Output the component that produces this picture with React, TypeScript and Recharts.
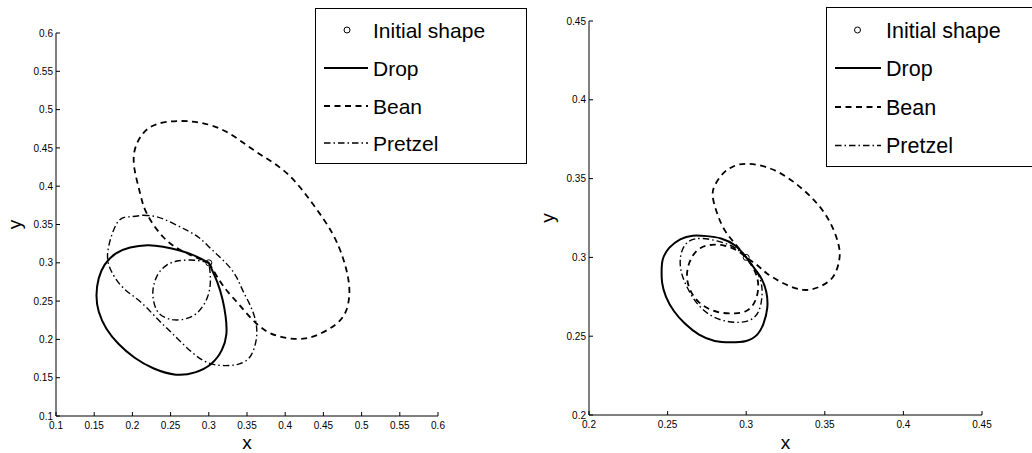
import React from 'react';
import { ComposedChart, Line, Scatter, XAxis, YAxis, Legend } from 'recharts';

// ---------- data ----------
const initialShape = [[0.3, 0.3]];

const dropLeft = [
  [0.300, 0.300], [0.282, 0.309], [0.262, 0.316], [0.240, 0.321], [0.220, 0.323], [0.197, 0.320],
  [0.178, 0.312], [0.164, 0.298], [0.156, 0.280], [0.153, 0.258], [0.156, 0.236], [0.166, 0.214],
  [0.182, 0.194], [0.203, 0.176], [0.228, 0.162], [0.257, 0.154], [0.282, 0.157], [0.303, 0.168],
  [0.317, 0.186], [0.323, 0.207], [0.322, 0.230], [0.318, 0.252], [0.311, 0.275], [0.300, 0.300],
];

const beanLeft = [
  [0.300, 0.300], [0.314, 0.277], [0.325, 0.262], [0.340, 0.245], [0.357, 0.226], [0.375, 0.211],
  [0.392, 0.204], [0.408, 0.201], [0.424, 0.201], [0.440, 0.205], [0.458, 0.214], [0.471, 0.224],
  [0.480, 0.238], [0.484, 0.260], [0.482, 0.282], [0.476, 0.305], [0.462, 0.338], [0.436, 0.377],
  [0.402, 0.417], [0.362, 0.445], [0.323, 0.471], [0.288, 0.483], [0.258, 0.485], [0.232, 0.481],
  [0.214, 0.469], [0.203, 0.447], [0.203, 0.421], [0.210, 0.391], [0.219, 0.364], [0.240, 0.334],
  [0.266, 0.315], [0.300, 0.300],
];

const pretzelLeftInner = [
  [0.300, 0.300], [0.286, 0.303], [0.271, 0.3035], [0.257, 0.302], [0.245, 0.297], [0.234, 0.286],
  [0.228, 0.271], [0.227, 0.255], [0.232, 0.238], [0.242, 0.229], [0.255, 0.2255], [0.270, 0.227],
  [0.284, 0.234], [0.295, 0.248], [0.301, 0.265], [0.302, 0.283], [0.300, 0.300],
];

const pretzelLeftOuter = [
  [0.214, 0.362], [0.232, 0.360], [0.252, 0.352], [0.271, 0.3425], [0.287, 0.333], [0.301, 0.320],
  [0.315, 0.307], [0.3275, 0.294], [0.337, 0.280], [0.3444, 0.264], [0.353, 0.247], [0.360, 0.229],
  [0.3627, 0.205], [0.3545, 0.178], [0.340, 0.168], [0.3275, 0.166], [0.3013, 0.1686], [0.2752, 0.1856],
  [0.252, 0.208], [0.232, 0.2275], [0.2098, 0.2497], [0.1876, 0.2676], [0.172, 0.290], [0.168, 0.316],
  [0.1797, 0.3516], [0.195, 0.360], [0.214, 0.362],
];

const dropRight = [
  [0.300, 0.300], [0.293, 0.3075], [0.284, 0.312], [0.275, 0.3135], [0.266, 0.3138], [0.258, 0.3115],
  [0.251, 0.306], [0.247, 0.299], [0.2462, 0.292], [0.2465, 0.284], [0.249, 0.275], [0.254, 0.266],
  [0.261, 0.258], [0.270, 0.251], [0.280, 0.247], [0.290, 0.2461], [0.300, 0.247], [0.307, 0.251],
  [0.311, 0.258], [0.3134, 0.268], [0.3128, 0.278], [0.310, 0.286], [0.306, 0.292], [0.300, 0.300],
];

const beanRight = [
  [0.300, 0.300], [0.2935, 0.308], [0.2865, 0.317], [0.2815, 0.328], [0.2787, 0.3387], [0.2802, 0.346],
  [0.2855, 0.3535], [0.2918, 0.3577], [0.3003, 0.3594], [0.3173, 0.3556], [0.3363, 0.3429], [0.3512, 0.326],
  [0.3585, 0.309], [0.3592, 0.2984], [0.3554, 0.2879], [0.3469, 0.2815], [0.3363, 0.2794], [0.3236, 0.2836],
  [0.313, 0.290], [0.3067, 0.2953], [0.300, 0.300], [0.294, 0.3045], [0.286, 0.3075], [0.278, 0.308],
  [0.271, 0.306], [0.266, 0.301], [0.263, 0.294], [0.2625, 0.286], [0.265, 0.278], [0.270, 0.2715],
  [0.277, 0.267], [0.285, 0.2648], [0.293, 0.2645], [0.300, 0.266], [0.305, 0.271], [0.3075, 0.279],
  [0.307, 0.287], [0.304, 0.294], [0.300, 0.300],
];

const pretzelRight = [
  [0.300, 0.300], [0.293, 0.306], [0.283, 0.310], [0.272, 0.312], [0.264, 0.3105], [0.2595, 0.305],
  [0.258, 0.297], [0.2595, 0.288], [0.2635, 0.279], [0.269, 0.2705], [0.277, 0.2635], [0.286, 0.2598],
  [0.295, 0.2588], [0.303, 0.2605], [0.308, 0.266], [0.310, 0.275], [0.3095, 0.284], [0.306, 0.292],
  [0.300, 0.300],
];

const ticksLeft = [0.1, 0.15, 0.2, 0.25, 0.3, 0.35, 0.4, 0.45, 0.5, 0.55, 0.6];
const ticksRight = [0.2, 0.25, 0.3, 0.35, 0.4, 0.45];
const legendNames = ['Initial shape', 'Drop', 'Bean', 'Pretzel'];

// ---------- styles ----------
const FONT = '"Liberation Sans", Arial, Helvetica, sans-serif';
const TICK_LEN = 4;
const DASH = '6 4.5';
const DASHDOT = '6.5 3 1.5 3';
const STYLE: Record<string, { dash?: string; width: number }> = {
  Drop: { width: 2 },
  Bean: { dash: DASH, width: 1.8 },
  Pretzel: { dash: DASHDOT, width: 1.4 },
};

const toPts = (a: number[][]) => a.map(([x, y]) => ({ x, y }));

const BottomTick = (p: any) => (
  <g>
    <line x1={p.x} y1={p.y} x2={p.x} y2={p.y - TICK_LEN} stroke="#000" strokeWidth={1} />
    <text x={p.x} y={p.y + 12.6} textAnchor="middle" fontSize={10} fontFamily={FONT} fill="#000">
      {String(p.payload.value)}
    </text>
  </g>
);
const TopTick = (p: any) => (
  <line x1={p.x} y1={p.y} x2={p.x} y2={p.y + TICK_LEN} stroke="#000" strokeWidth={1} />
);
const LeftTick = (p: any) => (
  <g>
    <line x1={p.x} y1={p.y} x2={p.x + TICK_LEN} y2={p.y} stroke="#000" strokeWidth={1} />
    <text x={p.x - 3} y={p.y + 3.6} textAnchor="end" fontSize={10} fontFamily={FONT} fill="#000">
      {String(p.payload.value)}
    </text>
  </g>
);
const RightTick = (p: any) => (
  <line x1={p.x} y1={p.y} x2={p.x - TICK_LEN} y2={p.y} stroke="#000" strokeWidth={1} />
);

type LegendGeom = {
  left: number; top: number; w: number; h: number; rows: number[];
  lineX1: number; lineX2: number; markX: number; textX: number; fontSize: number;
};

const LegendBox = ({ g }: { g: LegendGeom }) => (
  <svg width={g.w} height={g.h} style={{ display: 'block' }}>
    <rect x={0.5} y={0.5} width={g.w - 1} height={g.h - 1} fill="#fff" stroke="#000" strokeWidth={1} />
    {legendNames.map((name, i) => {
      const cy = g.rows[i];
      const st = STYLE[name];
      return (
        <g key={name}>
          {st ? (
            <line x1={g.lineX1} y1={cy} x2={g.lineX2} y2={cy} stroke="#000"
              strokeWidth={st.width} strokeDasharray={st.dash} />
          ) : (
            <circle cx={g.markX} cy={cy} r={3} fill="none" stroke="#000" strokeWidth={1} />
          )}
          <text x={g.textX} y={cy + g.fontSize * 0.36} fontSize={g.fontSize} fontFamily={FONT} fill="#000">
            {name}
          </text>
        </g>
      );
    })}
  </svg>
);

type PanelProps = {
  width: number; height: number;
  margin: { top: number; right: number; bottom: number; left: number };
  yAxisWidth: number; xAxisHeight: number;
  domain: [number, number]; ticks: number[];
  drop: number[][]; bean: number[][]; pretzels: number[][][];
  legend: LegendGeom; yLabelX: number; xLabelDy: number;
};

const Panel = (pp: PanelProps) => {
  const common = { type: 'number' as const, domain: pp.domain, ticks: pp.ticks, allowDataOverflow: true, interval: 0 as const };
  return (
    <ComposedChart width={pp.width} height={pp.height} margin={pp.margin}>
      <XAxis xAxisId="b" dataKey="x" {...common} height={pp.xAxisHeight} tickSize={0} tickMargin={0}
        tick={<BottomTick />} tickLine={false} axisLine={{ stroke: '#000', strokeWidth: 1 }}
        label={{
          content: (lp: any) => {
            const vb = lp.viewBox;
            return (
              <text x={vb.x + vb.width / 2} y={vb.y + pp.xLabelDy} textAnchor="middle" fontSize={19}
                fontFamily={FONT} fill="#000">x</text>
            );
          },
        }} />
      <XAxis xAxisId="t" dataKey="x" orientation="top" {...common} height={0} tickSize={0} tickMargin={0}
        tick={<TopTick />} tickLine={false} axisLine={{ stroke: '#000', strokeWidth: 1 }} />
      <YAxis yAxisId="l" dataKey="y" {...common} width={pp.yAxisWidth} tickSize={0} tickMargin={0}
        tick={<LeftTick />} tickLine={false} axisLine={{ stroke: '#000', strokeWidth: 1 }}
        label={{
          content: (lp: any) => {
            const vb = lp.viewBox;
            const cx = vb.x + pp.yLabelX;
            const cy = vb.y + vb.height / 2;
            return (
              <text x={cx} y={cy} transform={`rotate(-90 ${cx} ${cy})`} textAnchor="middle" fontSize={19}
                fontFamily={FONT} fill="#000">y</text>
            );
          },
        }} />
      <YAxis yAxisId="r" dataKey="y" orientation="right" {...common} width={0} tickSize={0} tickMargin={0}
        tick={<RightTick />} tickLine={false} axisLine={{ stroke: '#000', strokeWidth: 1 }} />
      <Line xAxisId="b" yAxisId="l" name="Drop" data={toPts(pp.drop)} dataKey="y" type="natural"
        stroke="#000" strokeWidth={STYLE.Drop.width} dot={false} activeDot={false} isAnimationActive={false} />
      <Line xAxisId="b" yAxisId="l" name="Bean" data={toPts(pp.bean)} dataKey="y" type="natural"
        stroke="#000" strokeWidth={STYLE.Bean.width} strokeDasharray={STYLE.Bean.dash} dot={false}
        activeDot={false} isAnimationActive={false} />
      {pp.pretzels.map((pz, i) => (
        <Line key={i} xAxisId="b" yAxisId="l" name={i === 0 ? 'Pretzel' : `Pretzel-${i}`} data={toPts(pz)}
          dataKey="y" type="natural" stroke="#000" strokeWidth={STYLE.Pretzel.width}
          strokeDasharray={STYLE.Pretzel.dash} dot={false} activeDot={false} isAnimationActive={false}
          legendType={i === 0 ? 'line' : 'none'} />
      ))}
      <Scatter xAxisId="b" yAxisId="l" name="Initial shape" data={toPts(initialShape)} dataKey="y"
        isAnimationActive={false}
        shape={(s: any) => <circle cx={s.cx} cy={s.cy} r={3} fill="none" stroke="#000" strokeWidth={1} />} />
      <Legend layout="vertical" align="center" verticalAlign="middle"
        wrapperStyle={{ left: pp.legend.left, top: pp.legend.top, width: pp.legend.w, height: pp.legend.h }}
        content={() => <LegendBox g={pp.legend} />} />
    </ComposedChart>
  );
};

export default function App() {
  return (
    <div style={{ position: 'absolute', left: 0, top: 0, width: 1032, height: 453, overflow: 'hidden', background: '#fff', fontFamily: FONT }}>
      <div style={{ position: 'absolute', left: 0, top: 0 }}>
        <Panel width={520} height={453} margin={{ top: 33, right: 82, bottom: 0, left: 0 }}
          yAxisWidth={56} xAxisHeight={37} domain={[0.1, 0.6]} ticks={ticksLeft}
          drop={dropLeft} bean={beanLeft} pretzels={[pretzelLeftInner, pretzelLeftOuter]}
          yLabelX={21} xLabelDy={32.5}
          legend={{ left: 315, top: 8, w: 212, h: 156, rows: [22, 60, 98, 135], lineX1: 9, lineX2: 53, markX: 32, textX: 58, fontSize: 21 }} />
      </div>
      <div style={{ position: 'absolute', left: 520, top: 0 }}>
        <Panel width={512} height={453} margin={{ top: 21, right: 50, bottom: 0, left: 0 }}
          yAxisWidth={69} xAxisHeight={38} domain={[0.2, 0.45]} ticks={ticksRight}
          drop={dropRight} bean={beanRight} pretzels={[pretzelRight]}
          yLabelX={34} xLabelDy={33.5}
          legend={{ left: 306, top: 7, w: 230, h: 160, rows: [23, 61, 100, 138.5], lineX1: 9, lineX2: 55, markX: 31.5, textX: 60, fontSize: 21.5 }} />
      </div>
    </div>
  );
}
